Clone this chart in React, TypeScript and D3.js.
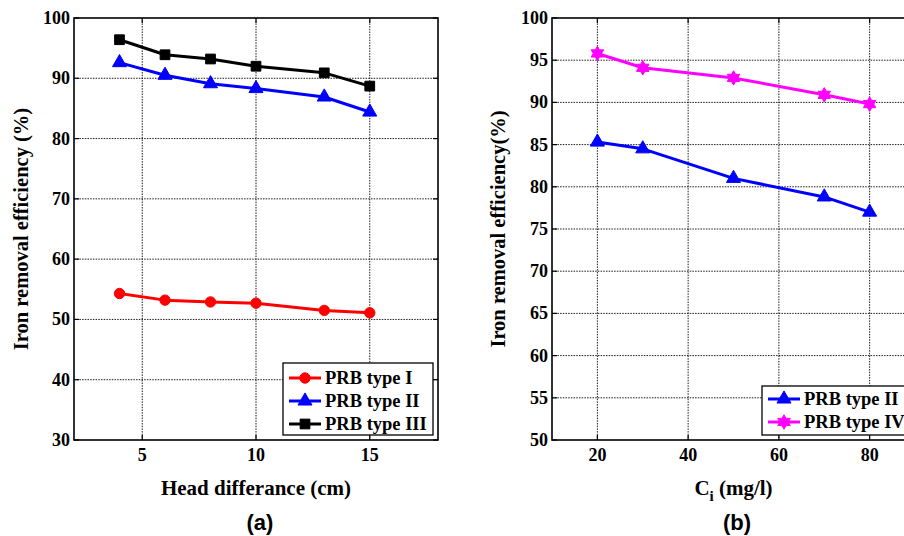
import React, { useEffect, useRef } from 'react';
import * as d3 from 'd3';

// panel (a): efficiency vs head difference
const headDiff = [4, 6, 8, 10, 13, 15];
const typeI = [54.3, 53.2, 52.9, 52.7, 51.5, 51.1];
const typeII = [92.6, 90.5, 89.1, 88.3, 86.9, 84.4];
const typeIII = [96.4, 93.9, 93.2, 92.0, 90.9, 88.7];
const ticksA_x = [5, 10, 15];
const ticksA_y = [30, 40, 50, 60, 70, 80, 90, 100];

// panel (b): efficiency vs initial concentration
const concentration = [20, 30, 50, 70, 80];
const typeII_b = [85.3, 84.5, 81.0, 78.8, 77.0];
const typeIV_b = [95.8, 94.1, 92.9, 90.9, 89.8];
const ticksB_x = [20, 40, 60, 80];
const ticksB_y = [50, 55, 60, 65, 70, 75, 80, 85, 90, 95, 100];

const serif = '"Liberation Serif", "Times New Roman", serif';

// six-pointed star (hexagram) marker
const hexagram = {
  draw(ctx: any, size: number) {
    const R = Math.sqrt(size) * 0.72;
    const r = R * 0.58;
    for (let i = 0; i < 12; i++) {
      const a = (Math.PI / 6) * i - Math.PI / 2;
      const rad = i % 2 === 0 ? R : r;
      const x = rad * Math.cos(a);
      const y = rad * Math.sin(a);
      if (i === 0) ctx.moveTo(x, y);
      else ctx.lineTo(x, y);
    }
    ctx.closePath();
  },
};

const markerPath = (kind: string) => {
  if (kind === 'circle') return d3.symbol().type(d3.symbolCircle).size(85)();
  if (kind === 'triangle') return d3.symbol().type(d3.symbolTriangle).size(85)();
  if (kind === 'square') return d3.symbol().type(d3.symbolSquare).size(95)();
  return d3.symbol().type(hexagram as any).size(100)();
};

const drawPanel = (svg: any, opt: any) => {
  const { left, right, top, bottom } = opt;
  const x = d3.scaleLinear().domain(opt.xDomain).range([left, right]);
  const y = d3.scaleLinear().domain(opt.yDomain).range([bottom, top]);
  const g = svg.append('g');

  // dotted grid
  const gridG = g.append('g').attr('stroke', '#000').attr('stroke-width', 0.9).attr('stroke-dasharray', '1.5,1.2');
  opt.xTicks.forEach((t: number) => {
    gridG.append('line').attr('x1', x(t)).attr('x2', x(t)).attr('y1', top).attr('y2', bottom);
  });
  opt.yTicks.forEach((t: number) => {
    if (t === opt.yDomain[0] || t === opt.yDomain[1]) return;
    gridG.append('line').attr('x1', left).attr('x2', right).attr('y1', y(t)).attr('y2', y(t));
  });

  // ticks inward on all four sides
  const tk = g.append('g').attr('stroke', '#000').attr('stroke-width', 1.2);
  opt.xTicks.forEach((t: number) => {
    tk.append('line').attr('x1', x(t)).attr('x2', x(t)).attr('y1', bottom).attr('y2', bottom - 5);
    tk.append('line').attr('x1', x(t)).attr('x2', x(t)).attr('y1', top).attr('y2', top + 5);
  });
  opt.yTicks.forEach((t: number) => {
    tk.append('line').attr('x1', left).attr('x2', left + 5).attr('y1', y(t)).attr('y2', y(t));
    tk.append('line').attr('x1', right).attr('x2', right - 5).attr('y1', y(t)).attr('y2', y(t));
  });

  g.append('rect')
    .attr('x', left).attr('y', top).attr('width', right - left).attr('height', bottom - top)
    .attr('fill', 'none').attr('stroke', '#000').attr('stroke-width', 1.6);

  // tick labels
  g.append('g').selectAll('text').data(opt.xTicks).enter().append('text')
    .attr('x', (d: number) => x(d)).attr('y', bottom + 21)
    .attr('text-anchor', 'middle').attr('font-family', serif).attr('font-weight', 'bold')
    .attr('font-size', 18).text((d: number) => d);
  g.append('g').selectAll('text').data(opt.yTicks).enter().append('text')
    .attr('x', left - 4).attr('y', (d: number) => y(d) + 6)
    .attr('text-anchor', 'end').attr('font-family', serif).attr('font-weight', 'bold')
    .attr('font-size', 18).text((d: number) => d);

  // series
  const line = d3.line<number>().x((_, i) => x(opt.xs[i])).y((d) => y(d));
  opt.series.forEach((s: any) => {
    g.append('path').attr('d', line(s.values)).attr('fill', 'none')
      .attr('stroke', s.color).attr('stroke-width', 3).attr('stroke-linejoin', 'round');
    g.append('g').selectAll('path').data(s.values).enter().append('path')
      .attr('d', markerPath(s.marker))
      .attr('transform', (d: number, i: number) => `translate(${x(opt.xs[i])},${y(d)})`)
      .attr('fill', s.color).attr('stroke', s.color).attr('stroke-width', 1);
  });

  // legend
  const lg = opt.legend;
  g.append('rect').attr('x', lg.x).attr('y', lg.y).attr('width', lg.w).attr('height', lg.h)
    .attr('fill', '#fff').attr('stroke', '#000').attr('stroke-width', 1.3);
  opt.series.forEach((s: any, i: number) => {
    const yy = lg.y + lg.first + i * 23;
    g.append('line').attr('x1', lg.x + 6).attr('x2', lg.x + 38).attr('y1', yy).attr('y2', yy)
      .attr('stroke', s.color).attr('stroke-width', 3);
    g.append('path').attr('d', markerPath(s.marker)).attr('transform', `translate(${lg.x + 22},${yy})`)
      .attr('fill', s.color).attr('stroke', s.color);
    g.append('text').attr('x', lg.x + 42).attr('y', yy + 6).attr('font-family', serif)
      .attr('font-weight', 'bold').attr('font-size', 18.5).text(s.name);
  });

  // axis titles
  const xl = g.append('text').attr('x', (left + right) / 2).attr('y', bottom + 55)
    .attr('text-anchor', 'middle').attr('font-family', serif).attr('font-weight', 'bold').attr('font-size', 21);
  if (opt.xSub) {
    xl.append('tspan').text(opt.xLabel);
    xl.append('tspan').attr('font-size', 15).attr('dy', 6).text(opt.xSub);
    xl.append('tspan').attr('dy', -6).text(opt.xRest);
  } else {
    xl.text(opt.xLabel);
  }
  g.append('text').attr('transform', `translate(${opt.yLabelX},${(top + bottom) / 2}) rotate(-90)`)
    .attr('text-anchor', 'middle').attr('font-family', serif).attr('font-weight', 'bold')
    .attr('font-size', 20.5).text(opt.yLabel);

  g.append('text').attr('x', opt.tagX).attr('y', 530).attr('text-anchor', 'middle')
    .attr('font-family', '"Liberation Sans", Arial, sans-serif').attr('font-weight', 'bold')
    .attr('font-size', 22).text(opt.tag);
};

const App = () => {
  const ref = useRef<SVGSVGElement>(null);

  useEffect(() => {
    const svg = d3.select(ref.current);
    svg.selectAll('*').remove();

    drawPanel(svg, {
      left: 74, right: 438, top: 18, bottom: 440,
      xDomain: [2, 18], yDomain: [30, 100],
      xTicks: ticksA_x, yTicks: ticksA_y, xs: headDiff,
      series: [
        { name: 'PRB type I', values: typeI, color: '#ff0000', marker: 'circle' },
        { name: 'PRB type II', values: typeII, color: '#0000ff', marker: 'triangle' },
        { name: 'PRB type III', values: typeIII, color: '#000000', marker: 'square' },
      ],
      legend: { x: 283, y: 363, w: 150, h: 72, first: 15 },
      xLabel: 'Head differance (cm)',
      yLabel: 'Iron removal efficiency (%)', yLabelX: 28, tagX: 260, tag: '(a)',
    });

    drawPanel(svg, {
      left: 552, right: 915, top: 18, bottom: 440,
      xDomain: [10, 90], yDomain: [50, 100],
      xTicks: ticksB_x, yTicks: ticksB_y, xs: concentration,
      series: [
        { name: 'PRB type II', values: typeII_b, color: '#0000ff', marker: 'triangle' },
        { name: 'PRB type IV', values: typeIV_b, color: '#ff00ff', marker: 'star' },
      ],
      legend: { x: 762, y: 386, w: 160, h: 49, first: 13 },
      xLabel: 'C', xSub: 'i', xRest: ' (mg/l)',
      yLabel: 'Iron removal efficiency(%)', yLabelX: 505, tagX: 737, tag: '(b)',
    });
  }, []);

  return (
    <svg ref={ref} width={904} height={536}
      style={{ position: 'absolute', left: 0, top: 0, background: '#fff' }} />
  );
};

export default App;
